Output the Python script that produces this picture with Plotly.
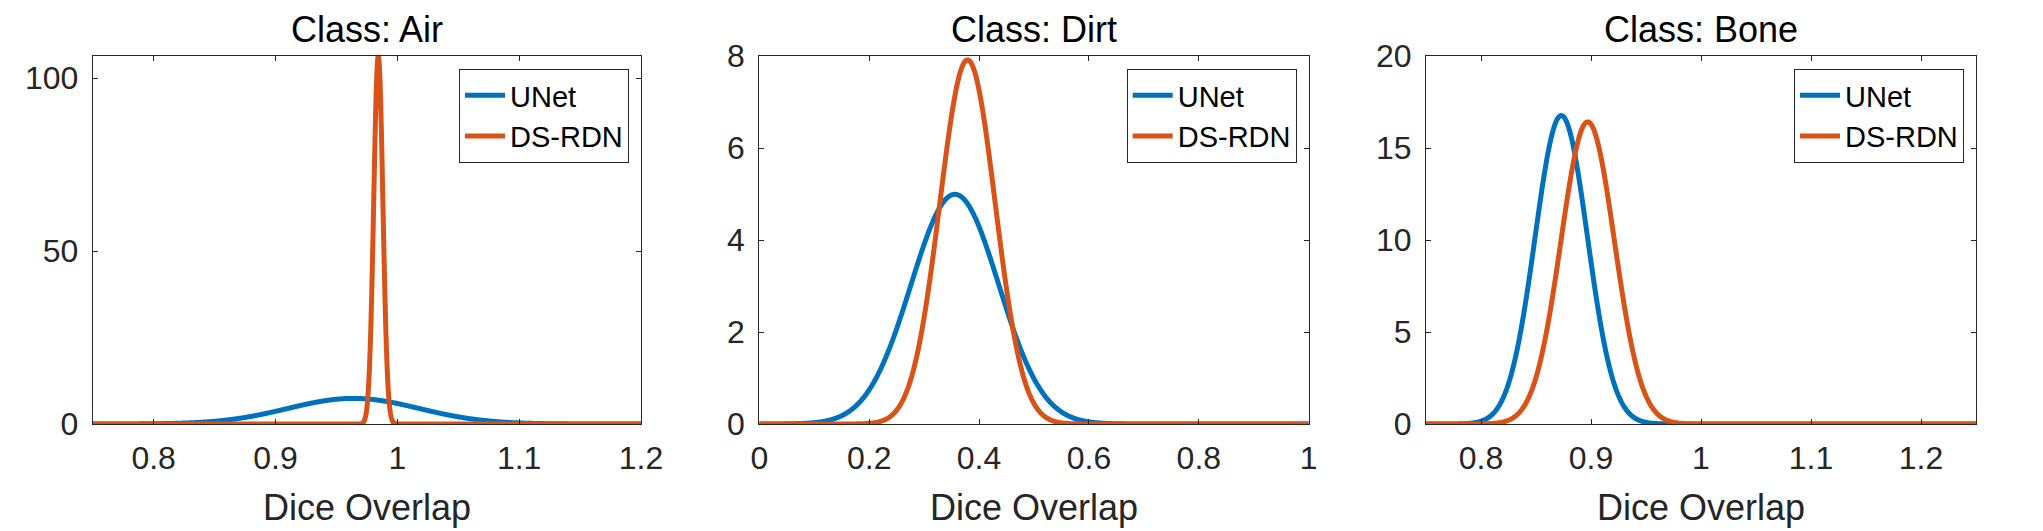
import numpy as np
import plotly.graph_objects as go

classes = ["Air", "Dirt", "Bone"]
models = ["UNet", "DS-RDN"]

# normal fit (mean, std) of the Dice overlap per class
unet_mean = [0.964, 0.356, 0.873]
unet_std = [0.0539, 0.0799, 0.0238]
dsrdn_mean = [0.9844, 0.379, 0.897]
dsrdn_std = [0.00375, 0.0504, 0.0243]

x_ranges = [[0.75, 1.2], [0.0, 1.0], [0.75, 1.25]]
x_ticks = [[0.8, 0.9, 1.0, 1.1, 1.2], [0, 0.2, 0.4, 0.6, 0.8, 1.0], [0.8, 0.9, 1.0, 1.1, 1.2]]
y_ticks = [[0, 50, 100], [0, 2, 4, 6, 8], [0, 5, 10, 15, 20]]
y_tops = [None, 8, 20]

colors = ["#0072BD", "#D95319"]
W, H = 2043, 531
OFF = 8  # page body margin
axis_color = "#262626"
font = "Liberation Sans, Arial, sans-serif"

# panel boxes in screen pixels (left, right), shared top/bottom
panels_px = [(92.7, 641.0), (759.3, 1308.7), (1426.0, 1976.0)]
top_px, bot_px = 56.0, 424.0


def px_x(p):
    return (p - OFF) / W


def px_y(p):
    return 1 - (p - OFF) / H


def normpdf(x, mu, sd):
    return np.exp(-0.5 * ((x - mu) / sd) ** 2) / (sd * np.sqrt(2 * np.pi))


fig = go.Figure()
annotations = []

for i, cls in enumerate(classes):
    sfx = "" if i == 0 else str(i + 1)
    xa, ya = "x" + sfx, "y" + sfx
    lg = "legend" + sfx
    lo, hi = x_ranges[i]
    xs = np.linspace(lo, hi, 4001)
    params = [(unet_mean[i], unet_std[i]), (dsrdn_mean[i], dsrdn_std[i])]
    ymax = 0
    for j, (mu, sd) in enumerate(params):
        ys = normpdf(xs, mu, sd)
        ymax = max(ymax, ys.max())
        fig.add_trace(go.Scatter(
            x=xs, y=ys, mode="lines", name=models[j],
            line=dict(color=colors[j], width=5, simplify=False),
            xaxis=xa, yaxis=ya, legend=lg, cliponaxis=False,
            hoverinfo="skip"
        ))

    x0, x1 = panels_px[i]
    top = y_tops[i] if y_tops[i] is not None else ymax
    axis_common = dict(
        showline=True, linecolor=axis_color, linewidth=1, mirror="ticks",
        ticks="inside", ticklen=5, tickcolor=axis_color, tickwidth=1,
        showgrid=False, zeroline=False, automargin=False,
        tickfont=dict(family=font, size=32, color=axis_color),
    )
    fig.layout["xaxis" + sfx] = dict(
        domain=[px_x(x0), px_x(x1)], range=[lo, hi], tickvals=x_ticks[i],
        anchor=ya, ticklabelstandoff=6, **axis_common
    )
    fig.layout["yaxis" + sfx] = dict(
        domain=[px_y(bot_px), px_y(top_px)], range=[0, top],
        tickvals=y_ticks[i], anchor=xa, ticklabelstandoff=7, **axis_common
    )
    fig.layout[lg] = dict(
        x=px_x(x1 - 12), y=px_y(top_px + 13), xanchor="right", yanchor="top",
        bordercolor=axis_color, borderwidth=1, bgcolor="white",
        font=dict(family=font, size=29, color="black"),
        itemwidth=40, tracegroupgap=0
    )
    cx = px_x((x0 + x1) / 2)
    annotations.append(dict(
        text="Class: " + cls, x=cx, y=px_y(30), xref="paper", yref="paper",
        xanchor="center", yanchor="middle", showarrow=False,
        font=dict(family=font, size=36, color="black")
    ))
    annotations.append(dict(
        text="Dice Overlap", x=cx, y=px_y(507), xref="paper", yref="paper",
        xanchor="center", yanchor="middle", showarrow=False,
        font=dict(family=font, size=36, color=axis_color)
    ))

fig.update_layout(
    width=W, height=H,
    margin=dict(l=0, r=0, t=0, b=0),
    plot_bgcolor="white", paper_bgcolor="white",
    annotations=annotations,
    showlegend=True,
)

fig.write_html("out.html")
